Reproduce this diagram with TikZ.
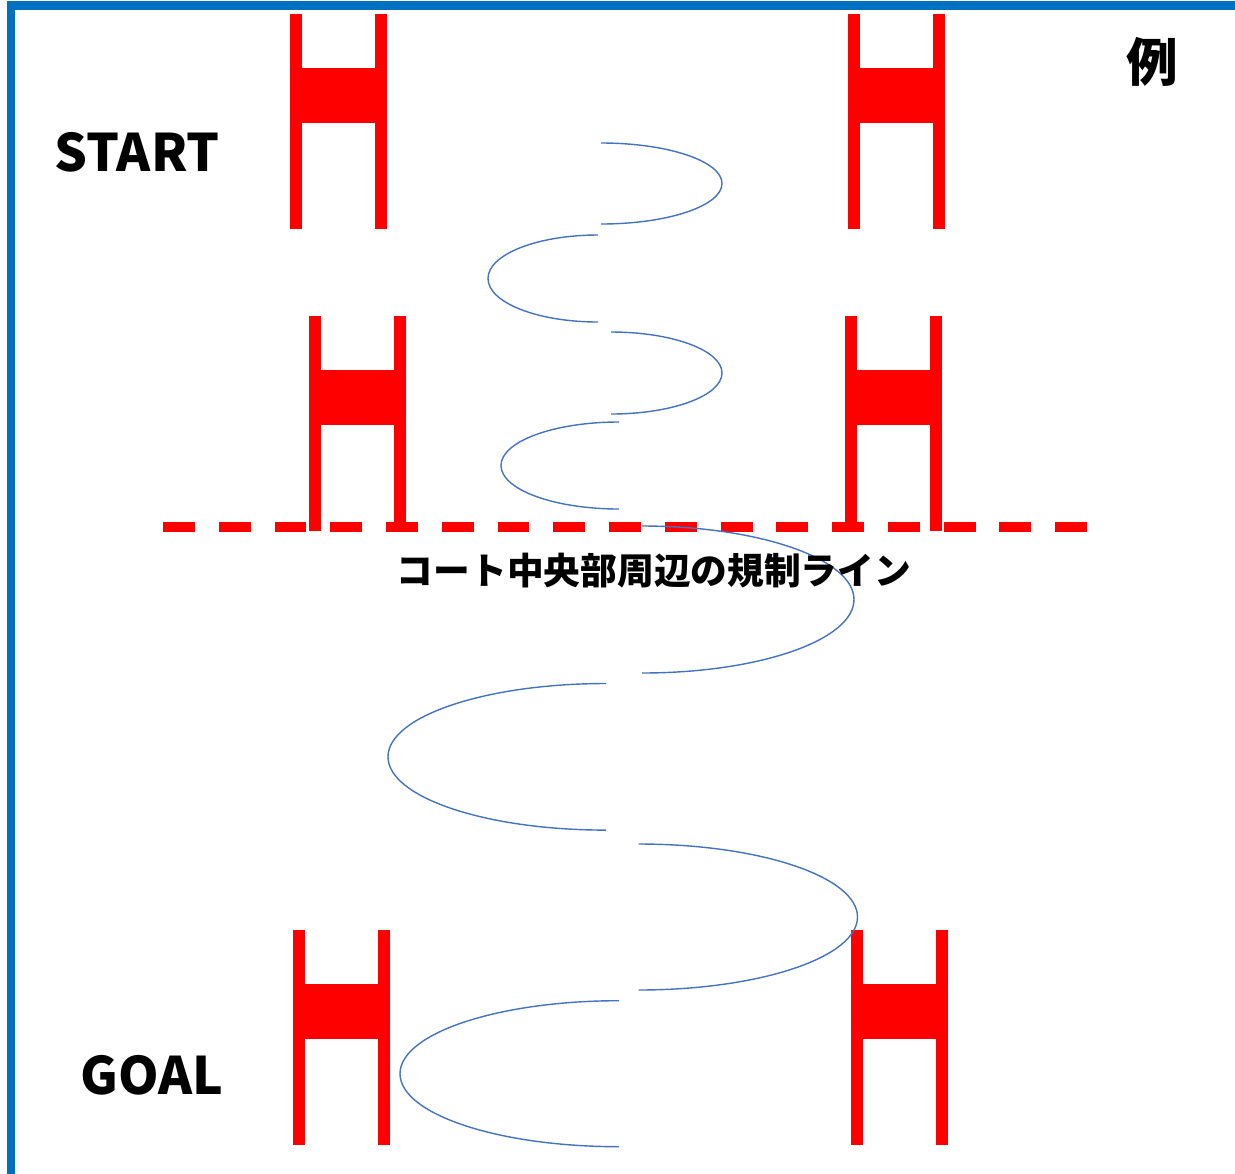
\documentclass[tikz,border=0pt]{standalone}
\usepackage{fontspec}
\newfontfamily\jpfont{Noto Sans CJK JP}
\definecolor{frameblue}{RGB}{0,112,192}
\definecolor{runblue}{RGB}{68,114,196}
\tikzset{
  frame/.style   = {draw=frameblue, line width=5pt},
  post/.style    = {fill=red},
  regline/.style = {draw=red, line width=5.6pt, dash pattern=on 18.14pt off 13.6pt},
  runpath/.style = {draw=runblue, line width=0.8pt},
  bigtext/.style = {font=\jpfont\bfseries\fontsize{29.4}{30}\selectfont, inner sep=0pt},
  midtext/.style = {font=\jpfont\bfseries\fontsize{20.9}{22}\selectfont, inner sep=0pt},
  hurdle/.pic = {
    \fill[post] (0,0) rectangle (12,215);   % left post
    \fill[post] (85,0) rectangle (97,215);  % right post
    \fill[post] (0,54) rectangle (97,109);  % bar
  }
}

\begin{document}
\begin{tikzpicture}[x=0.02cm, y=-0.02cm]
	\clip (0,0) rectangle (1235,1174);

	% Frame
	\draw[frame] (11,5.5) rectangle (1245,1179);

	% Hurdles
	\pic at (290,14)  {hurdle}; % start left
	\pic at (848,14)  {hurdle}; % start right
	\pic at (309,316) {hurdle}; % middle left
	\pic at (845,316) {hurdle}; % middle right
	\pic at (293,930) {hurdle}; % goal left
	\pic at (851,930) {hurdle}; % goal right

	% Regulation line
	\draw[regline] (163,527) -- (1091,527);

	% Run
	\draw[runpath] (601,143)    arc (-90:90:121 and 40.5);
	\draw[runpath] (598,235)    arc (270:90:110 and 43.5);
	\draw[runpath] (611,332)    arc (-90:90:111 and 41);
	\draw[runpath] (619,422)    arc (270:90:118 and 43.5);
	\draw[runpath] (642,526)    arc (-90:90:212 and 73.5);
	\draw[runpath] (606,683.5)  arc (270:90:218 and 73.3);
	\draw[runpath] (638.5,844)  arc (-90:90:219 and 73);
	\draw[runpath] (619,1000.7) arc (270:90:219 and 73);

	% Labels
	\node[bigtext, anchor=base] (start) at (137,171)  {START};
	\node[bigtext, anchor=base] (goal)  at (152,1094) {GOAL};
	\node[bigtext] (example) at (1152,62) {例};
	\node[midtext, anchor=base] (rule) at (654,584) {コート中央部周辺の規制ライン};

\end{tikzpicture}
\end{document}
